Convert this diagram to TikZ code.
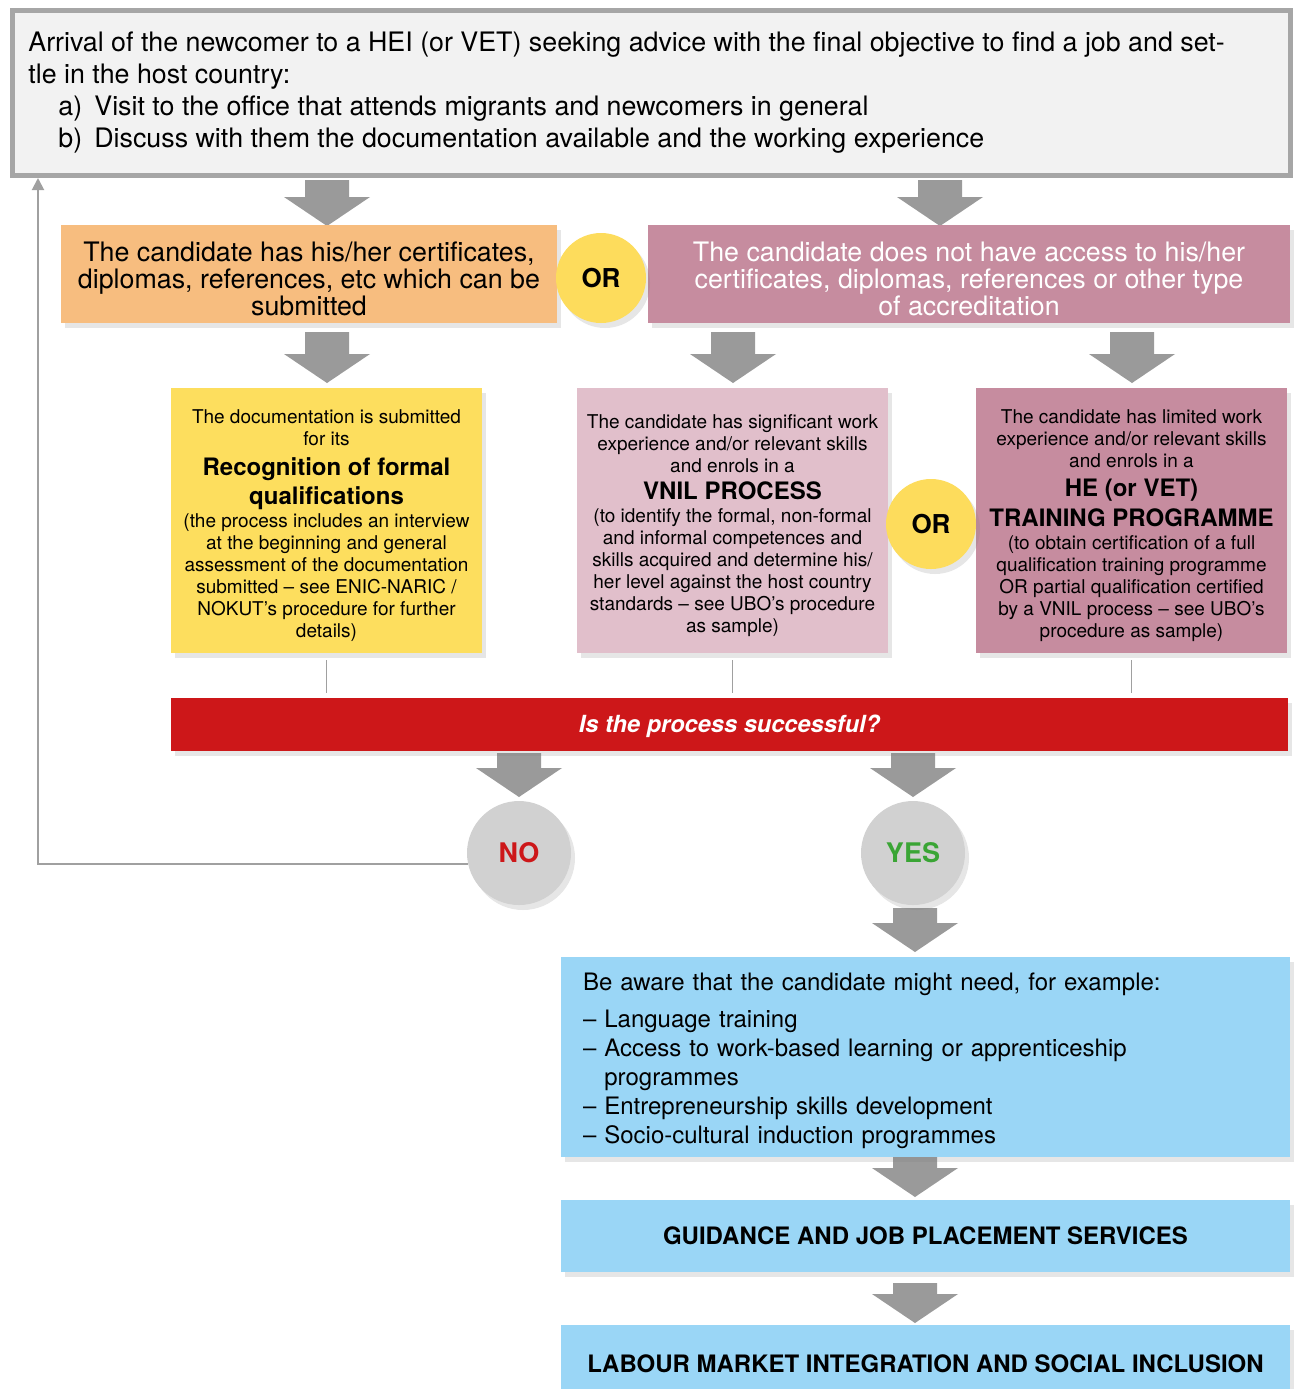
\documentclass[tikz,border=0pt]{standalone}
\usepackage{fontspec}
\setmainfont{TeX Gyre Heros}
\usetikzlibrary{positioning,shadows,arrows.meta}

\definecolor{topfill}{HTML}{F2F2F2}
\definecolor{topborder}{HTML}{A6A6A6}
\definecolor{orangefill}{HTML}{F7BD7F}
\definecolor{mauvefill}{HTML}{C68C9F}
\definecolor{rosefill}{HTML}{E1BFCB}
\definecolor{yellowfill}{HTML}{FDDE5E}
\definecolor{orfill}{HTML}{FDDC5C}
\definecolor{redfill}{HTML}{CD1719}
\definecolor{answerfill}{HTML}{D1D1D1}
\definecolor{bluefill}{HTML}{9AD6F6}
\definecolor{arrowgray}{HTML}{9A9A9A}
\definecolor{linegray}{HTML}{A0A0A0}
\definecolor{yesgreen}{HTML}{3AA535}

\newcommand{\bigfont}{\fontsize{13.4}{13.4}\selectfont}
\newcommand{\smallfont}{\fontsize{9.5}{11}\selectfont}
\newcommand{\headfont}{\bfseries\fontsize{12}{14}\selectfont}
\newcommand{\lowerstrut}[1]{\rule{0pt}{#1}}

\tikzset{
  flowbox/.style={rectangle, inner sep=0pt, align=center,
    drop shadow={opacity=0.2, shadow xshift=2pt, shadow yshift=-2.5pt}},
  orbubble/.style={circle, fill=orfill, minimum size=45pt, inner sep=0pt,
    font=\bfseries\fontsize{13}{15}\selectfont,
    drop shadow={opacity=0.2, shadow xshift=2pt, shadow yshift=-2.5pt}},
  answer/.style={circle, fill=answerfill, minimum size=52pt, inner sep=0pt,
    font=\bfseries\fontsize{13.5}{15}\selectfont,
    drop shadow={opacity=0.2, shadow xshift=2pt, shadow yshift=-2.5pt}},
  thinline/.style={draw=linegray, line width=0.7pt},
  loopline/.style={draw=linegray, line width=1pt, -{Triangle[length=6pt,width=6pt]}},
  pics/blockarrow/.style={code={
    \fill[arrowgray] (-22,0) -- (-22,#1) -- (-43,#1) -- (0,#1+29)
      -- (43,#1) -- (22,#1) -- (22,0) -- cycle;}}
}

\begin{document}
\begin{tikzpicture}[x=0.5pt, y=-0.5pt]
  \useasboundingbox (0,0) rectangle (1295,1389);

  % arrival box
  \node[rectangle, fill=topfill, draw=topborder, line width=2.5pt,
    minimum width=639pt, minimum height=82.5pt] (top) at (651.5,93) {};
  \node[anchor=north west, align=left, inner sep=0pt,
    font=\fontsize{13.4}{16}\selectfont] (toptext) at (28,31)
    {Arrival of the newcomer to a HEI (or VET) seeking advice with the final objective to find a job and set-\\
     tle in the host country:\\
     \hspace*{15pt}\makebox[18pt][l]{a)}Visit to the office that attends migrants and newcomers in general\\
     \hspace*{15pt}\makebox[18pt][l]{b)}Discuss with them the documentation available and the working experience};

  % block arrows
  \pic at (327,180) {blockarrow=17};
  \pic at (940,180) {blockarrow=17};
  \pic at (327,332) {blockarrow=22};
  \pic at (733,332) {blockarrow=22};
  \pic at (1132,332) {blockarrow=22};
  \pic at (519,753) {blockarrow=15};
  \pic at (913,753) {blockarrow=15};
  \pic at (915,908) {blockarrow=15};
  \pic at (915,1157) {blockarrow=11};
  \pic at (915,1283) {blockarrow=11};

  % documentation available or not
  \node[flowbox, fill=orangefill, minimum width=248pt, minimum height=49pt,
    font=\bigfont] (docs) at (309,274)
    {\lowerstrut{14.8pt}The candidate has his/her certificates,\\ diplomas, references, etc which can be\\ submitted};
  \node[flowbox, fill=mauvefill, minimum width=321pt, minimum height=49pt,
    font=\bigfont, text=white] (nodocs) at (969,274)
    {\lowerstrut{14.8pt}The candidate does not have access to his/her\\ certificates, diplomas, references or other type\\ of accreditation};
  \node[orbubble] (or1) at (601,278) {OR};

  % the three procedures
  \node[flowbox, fill=yellowfill, minimum width=155.5pt, minimum height=132.5pt,
    font=\smallfont] (recog) at (326.5,520.5)
    {\lowerstrut{12pt}The documentation is submitted\\ for its\\[4pt]
     {\headfont Recognition of formal}\\[2pt]
     {\headfont qualifications}\\[0.5pt]
     (the process includes an interview\\ at the beginning and general\\
     assessment of the documentation\\ submitted – see ENIC-NARIC /\\
     NOKUT’s procedure for further\\ details)};
  \node[flowbox, fill=rosefill, minimum width=155.5pt, minimum height=132.5pt,
    font=\smallfont] (vnil) at (732.5,520.5)
    {\lowerstrut{12pt}The candidate has significant work\\ experience and/or relevant skills\\ and enrols in a\\[2.5pt]
     {\headfont VNIL PROCESS}\\[0.5pt]
     (to identify the formal, non-formal\\ and informal competences and\\
     skills acquired and determine his/\\ her level against the host country\\
     standards – see UBO’s procedure\\ as sample)};
  \node[flowbox, fill=mauvefill, minimum width=155.5pt, minimum height=132.5pt,
    font=\smallfont] (training) at (1131.5,520.5)
    {\lowerstrut{12pt}The candidate has limited work\\ experience and/or relevant skills\\ and enrols in a\\[3.5pt]
     {\headfont HE (or VET)}\\[3pt]
     {\headfont TRAINING PROGRAMME}\\[0.5pt]
     (to obtain certification of a full\\ qualification training programme\\
     OR partial qualification certified\\ by a VNIL process – see UBO’s\\
     procedure as sample)};
  \node[orbubble] (or2) at (931,524) {OR};

  % question
  \node[flowbox, fill=redfill, minimum width=558.5pt, minimum height=26.5pt,
    text=white, font=\bfseries\itshape\fontsize{11.8}{14}\selectfont] (question) at (729.5,724.5)
    {\lowerstrut{10.5pt}Is the process successful?};

  \draw[thinline] ([yshift=-3.5pt]recog.south) -- ([yshift=2.5pt]recog.south |- question.north);
  \draw[thinline] ([yshift=-3.5pt]vnil.south) -- ([yshift=2.5pt]vnil.south |- question.north);
  \draw[thinline] ([yshift=-3.5pt]training.south) -- ([yshift=2.5pt]training.south |- question.north);

  % answers
  \node[answer, text=redfill] (no) at (519,853) {NO};
  \node[answer, text=yesgreen] (yes) at (913,853) {YES};
  \draw[loopline] (no.192) -| ([xshift=14pt]top.south west);

  % follow-up
  \node[flowbox, fill=bluefill, minimum width=364.5pt, minimum height=100pt,
    align=left, text width=342.5pt, font=\fontsize{12}{14.5}\selectfont] (needs) at (925.5,1057)
    {\lowerstrut{12.5pt}Be aware that the candidate might need, for example:\\[4pt]
     – Language training\\
     – Access to work-based learning or apprenticeship\\
     \phantom{– }programmes\\
     – Entrepreneurship skills development\\
     – Socio-cultural induction programmes};
  \node[flowbox, fill=bluefill, minimum width=364.5pt, minimum height=36pt,
    font=\bfseries\fontsize{12}{14}\selectfont] (guidance) at (925.5,1236)
    {GUIDANCE AND JOB PLACEMENT SERVICES};
  \node[flowbox, fill=bluefill, minimum width=364.5pt, minimum height=39pt,
    font=\bfseries\fontsize{12}{14}\selectfont] (labour) at (925.5,1364)
    {LABOUR MARKET INTEGRATION AND SOCIAL INCLUSION};
\end{tikzpicture}
\end{document}
